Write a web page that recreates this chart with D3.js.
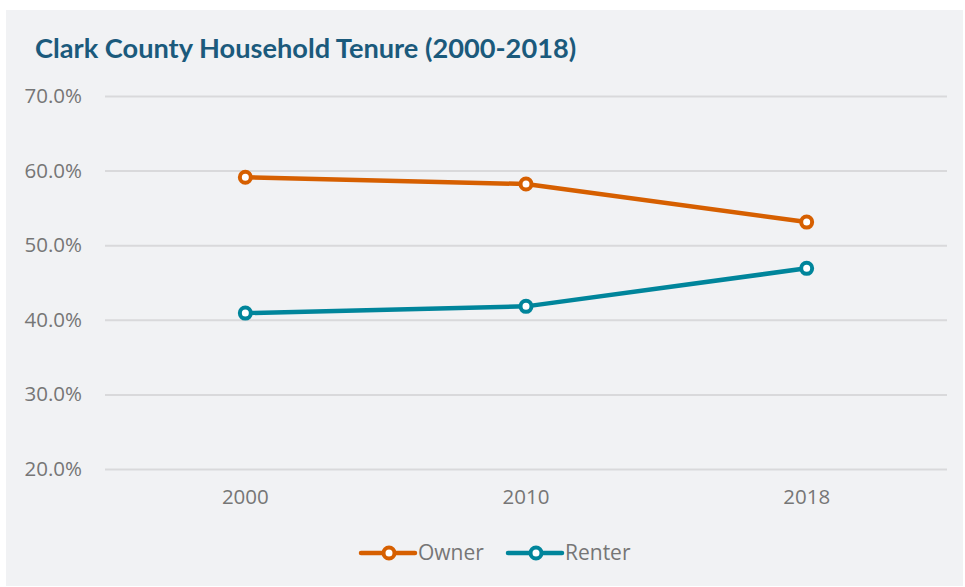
<!DOCTYPE html>
<html>
<head>
<meta charset="utf-8">
<script src="https://cdn.jsdelivr.net/npm/d3@7/dist/d3.min.js"></script>
<style>
  html, body { margin: 0; padding: 0; background: #ffffff; }
  svg { display: block; }
</style>
</head>
<body>
<svg id="chart" width="965" height="587"></svg>
<script>
// Household tenure shares for Clark County
const years = ["2000", "2010", "2018"];
const ownerShare = [59.1, 58.2, 53.1];
const renterShare = [40.9, 41.8, 46.9];
const yTicks = [20, 30, 40, 50, 60, 70];
const seriesNames = ["Owner", "Renter"];
const seriesColors = ["#D65F00", "#00859B"];

const series = [
  { name: seriesNames[0], color: seriesColors[0], values: ownerShare },
  { name: seriesNames[1], color: seriesColors[1], values: renterShare }
];

const svg = d3.select("#chart");

// Panel background
svg.append("rect")
  .attr("x", 6).attr("y", 10)
  .attr("width", 957).attr("height", 576)
  .attr("fill", "#F1F2F4");

// Title
svg.append("text")
  .attr("x", 35).attr("y", 58)
  .attr("font-family", "Lato, sans-serif")
  .attr("font-weight", "bold")
  .attr("font-size", 27.2)
  .attr("fill", "#1B5A7C")
  .text("Clark County Household Tenure (2000-2018)");

const plot = { left: 105, right: 947, top: 96, bottom: 469 };

const x = d3.scaleBand()
  .domain(years)
  .range([plot.left, plot.right]);

const y = d3.scaleLinear()
  .domain([20, 70])
  .range([plot.bottom, plot.top]);

const labelFont = "'Open Sans', sans-serif";
const labelColor = "#767676";

// Gridlines and y labels
const yAxis = d3.axisLeft(y)
  .tickValues(yTicks)
  .tickSize(-(plot.right - plot.left))
  .tickFormat(d => d.toFixed(1) + "%");

const gy = svg.append("g")
  .attr("transform", `translate(${plot.left},0)`)
  .call(yAxis);
gy.select(".domain").remove();
gy.selectAll(".tick line")
  .attr("stroke", "#D9D9DB")
  .attr("stroke-width", 2);
gy.selectAll(".tick text")
  .attr("font-family", labelFont)
  .attr("font-size", 20.5)
  .attr("fill", labelColor)
  .attr("x", -23);

// X labels
const xAxis = d3.axisBottom(x).tickSize(0).tickPadding(20);
const gx = svg.append("g")
  .attr("transform", `translate(0,${plot.bottom})`)
  .call(xAxis);
gx.select(".domain").remove();
gx.selectAll(".tick text")
  .attr("font-family", labelFont)
  .attr("font-size", 20.5)
  .attr("fill", labelColor);

// Lines and markers
const line = d3.line()
  .x((d, i) => x(years[i]) + x.bandwidth() / 2)
  .y(d => y(d));

series.forEach(s => {
  svg.append("path")
    .datum(s.values)
    .attr("fill", "none")
    .attr("stroke", s.color)
    .attr("stroke-width", 4.5)
    .attr("stroke-linejoin", "round")
    .attr("d", line);

  svg.append("g")
    .selectAll("circle")
    .data(s.values)
    .join("circle")
    .attr("cx", (d, i) => x(years[i]) + x.bandwidth() / 2)
    .attr("cy", d => y(d))
    .attr("r", 5.5)
    .attr("fill", "#ffffff")
    .attr("stroke", s.color)
    .attr("stroke-width", 4);
});

// Legend
const legendY = 553;
const legendItems = [
  { x0: 361, label: seriesNames[0], color: seriesColors[0] },
  { x0: 508, label: seriesNames[1], color: seriesColors[1] }
];
legendItems.forEach(it => {
  const g = svg.append("g");
  g.append("line")
    .attr("x1", it.x0).attr("x2", it.x0 + 54)
    .attr("y1", legendY).attr("y2", legendY)
    .attr("stroke", it.color)
    .attr("stroke-width", 4.5)
    .attr("stroke-linecap", "round");
  g.append("circle")
    .attr("cx", it.x0 + 28).attr("cy", legendY)
    .attr("r", 5.5)
    .attr("fill", "#ffffff")
    .attr("stroke", it.color)
    .attr("stroke-width", 4);
  g.append("text")
    .attr("x", it.x0 + 57).attr("y", legendY)
    .attr("dy", "0.35em")
    .attr("font-family", labelFont)
    .attr("font-size", 21)
    .attr("fill", labelColor)
    .text(it.label);
});
</script>
</body>
</html>
